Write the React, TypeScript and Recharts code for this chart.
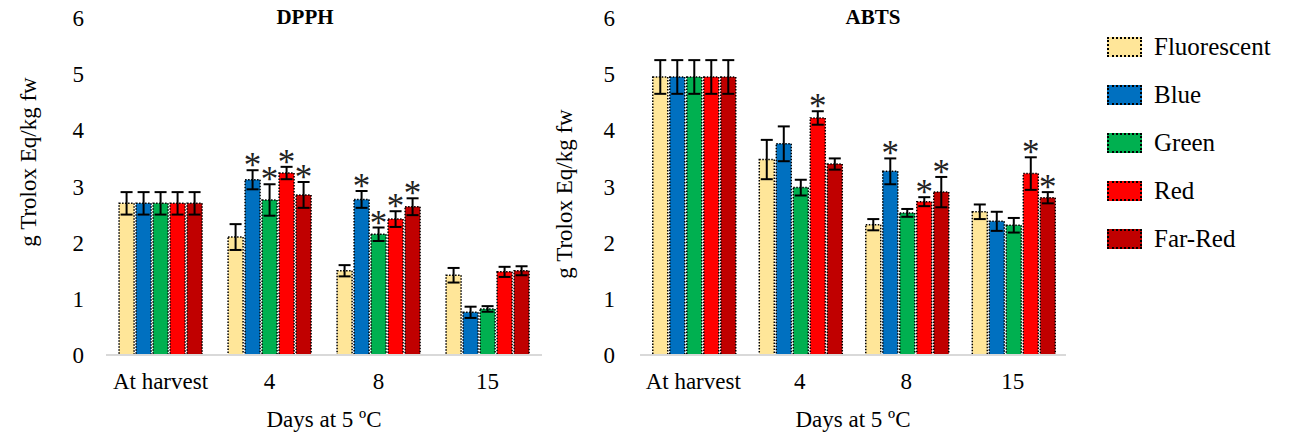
import React from 'react'
import { BarChart, Bar, XAxis, YAxis, ErrorBar, LabelList, Label } from 'recharts'

const categories = ['At harvest', '4', '8', '15']
const seriesNames = ['Fluorescent', 'Blue', 'Green', 'Red', 'Far-Red']
const seriesKeys = ['fl', 'bl', 'gr', 'rd', 'fr']
const seriesColors = ['#FFE699', '#0070C0', '#00B050', '#FF0000', '#C00000']
const yTicks = [0, 1, 2, 3, 4, 5, 6]

// DPPH
const dpphFluorescent = [2.7, 2.1, 1.5, 1.42]
const dpphBlue = [2.7, 3.12, 2.77, 0.76]
const dpphGreen = [2.7, 2.76, 2.15, 0.82]
const dpphRed = [2.7, 3.24, 2.42, 1.48]
const dpphFarRed = [2.7, 2.85, 2.64, 1.5]
const dpphFluorescentErr = [0.2, 0.23, 0.1, 0.13]
const dpphBlueErr = [0.2, 0.17, 0.15, 0.1]
const dpphGreenErr = [0.2, 0.28, 0.12, 0.05]
const dpphRedErr = [0.2, 0.11, 0.14, 0.09]
const dpphFarRedErr = [0.2, 0.23, 0.15, 0.08]
const dpphSig = [
  [false, false, false, false],
  [false, true, true, false],
  [false, true, true, false],
  [false, true, true, false],
  [false, true, true, false],
]

// ABTS
const abtsFluorescent = [4.95, 3.48, 2.32, 2.55]
const abtsBlue = [4.95, 3.76, 3.27, 2.38]
const abtsGreen = [4.95, 2.98, 2.53, 2.31]
const abtsRed = [4.95, 4.22, 2.73, 3.23]
const abtsFarRed = [4.95, 3.4, 2.9, 2.8]
const abtsFluorescentErr = [0.3, 0.35, 0.1, 0.13]
const abtsBlueErr = [0.3, 0.31, 0.23, 0.17]
const abtsGreenErr = [0.3, 0.14, 0.07, 0.13]
const abtsRedErr = [0.3, 0.12, 0.08, 0.29]
const abtsFarRedErr = [0.3, 0.1, 0.27, 0.1]
const abtsSig = [
  [false, false, false, false],
  [false, false, true, false],
  [false, false, false, false],
  [false, true, true, true],
  [false, false, true, true],
]

const FONT = '"Liberation Serif", "Times New Roman", serif'

function buildRows(values: number[][], errs: number[][]) {
  return categories.map((c, i) => {
    const row: Record<string, string | number> = { name: c }
    seriesKeys.forEach((k, s) => {
      row[k] = values[s][i]
      row[k + 'Err'] = errs[s][i]
    })
    return row
  })
}

const dpphErrs = [dpphFluorescentErr, dpphBlueErr, dpphGreenErr, dpphRedErr, dpphFarRedErr]
const abtsErrs = [abtsFluorescentErr, abtsBlueErr, abtsGreenErr, abtsRedErr, abtsFarRedErr]
const dpphData = buildRows([dpphFluorescent, dpphBlue, dpphGreen, dpphRed, dpphFarRed], dpphErrs)
const abtsData = buildRows([abtsFluorescent, abtsBlue, abtsGreen, abtsRed, abtsFarRed], abtsErrs)

// asterisk above the error bar of significant bars
const starLabel = (errs: number[], sig: boolean[]) => (props: any) => {
  const { x, y, width, height, value, index } = props
  if (!sig[index]) return null
  const perUnit = Math.abs(height) / value
  const top = y - errs[index] * perUnit
  return (
    <text x={x + width / 2} y={top + 7} textAnchor="middle" fontFamily={FONT} fontSize={35} fill="#222">
      *
    </text>
  )
}

interface PanelProps {
  data: Record<string, string | number>[]
  errs: number[][]
  sig: boolean[][]
  width: number
  yAxisWidth: number
  tickMargin: number
  marginRight: number
  yLabelX: number
  yLabelY: number
}

function Panel({ data, errs, sig, width, yAxisWidth, tickMargin, marginRight, yLabelX, yLabelY }: PanelProps) {
  return (
    <BarChart
      width={width}
      height={439}
      data={data}
      margin={{ top: 18, right: marginRight, left: 0, bottom: 54 }}
      barCategoryGap="12%"
      barGap={2}
    >
      <XAxis
        dataKey="name"
        height={30}
        axisLine={{ stroke: '#d9d9d9', strokeWidth: 2 }}
        tickLine={false}
        tick={{ fill: '#000', fontSize: 23, fontFamily: FONT }}
        tickMargin={12}
      >
        <Label
          content={(p: any) => {
            const vb = p.viewBox
            return (
              <text x={vb.x + vb.width / 2} y={422} textAnchor="middle" dominantBaseline="middle" fontFamily={FONT} fontSize={23} fill="#000">
                Days at 5 ºC
              </text>
            )
          }}
        />
      </XAxis>
      <YAxis
        domain={[0, 6]}
        ticks={yTicks}
        width={yAxisWidth}
        axisLine={false}
        tickLine={false}
        tickSize={0}
        tickMargin={tickMargin}
        tick={{ fill: '#000', fontSize: 23, fontFamily: FONT }}
      >
        <Label
          content={() => (
            <text
              x={yLabelX}
              y={yLabelY}
              textAnchor="middle"
              dominantBaseline="middle"
              transform={`rotate(-90 ${yLabelX} ${yLabelY})`}
              fontFamily={FONT}
              fontSize={23}
              fill="#000"
            >
              g Trolox Eq/kg fw
            </text>
          )}
        />
      </YAxis>
      {seriesKeys.map((k, s) => (
        <Bar
          key={k}
          dataKey={k}
          name={seriesNames[s]}
          fill={seriesColors[s]}
          stroke="#000"
          strokeWidth={1.5}
          strokeDasharray="1.5 1.5"
          isAnimationActive={false}
        >
          <ErrorBar dataKey={k + 'Err'} width={6} stroke="#000" strokeWidth={2} direction="y" />
          <LabelList dataKey={k} content={starLabel(errs[s], sig[s])} />
        </Bar>
      ))}
    </BarChart>
  )
}

export default function App() {
  return (
    <div style={{ position: 'absolute', left: 0, top: 0, width: 1294, height: 439, background: '#fff', fontFamily: FONT }}>
      <div style={{ position: 'absolute', left: 0, top: 0 }}>
        <Panel
          data={dpphData}
          errs={dpphErrs}
          sig={dpphSig}
          width={560}
          yAxisWidth={106}
          tickMargin={22}
          marginRight={18}
          yLabelX={31}
          yLabelY={162}
        />
      </div>
      <div style={{ position: 'absolute', left: 540, top: 0 }}>
        <Panel
          data={abtsData}
          errs={abtsErrs}
          sig={abtsSig}
          width={540}
          yAxisWidth={100}
          tickMargin={25}
          marginRight={14}
          yLabelX={27}
          yLabelY={194}
        />
      </div>
      <div style={{ position: 'absolute', left: 255, top: 5, width: 100, textAlign: 'center', fontWeight: 'bold', fontSize: 21 }}>DPPH</div>
      <div style={{ position: 'absolute', left: 823, top: 5, width: 100, textAlign: 'center', fontWeight: 'bold', fontSize: 21 }}>ABTS</div>
      <div style={{ position: 'absolute', left: 1107, top: 35 }}>
        {seriesNames.map((n, s) => (
          <div key={n} style={{ display: 'flex', alignItems: 'center', height: 48, marginTop: s === 0 ? -12 : 0 }}>
            <div
              style={{
                width: 31,
                height: 16,
                background: seriesColors[s],
                border: '2px dotted #000',
                marginRight: 12,
              }}
            />
            <span style={{ fontSize: 25 }}>{n}</span>
          </div>
        ))}
      </div>
    </div>
  )
}
